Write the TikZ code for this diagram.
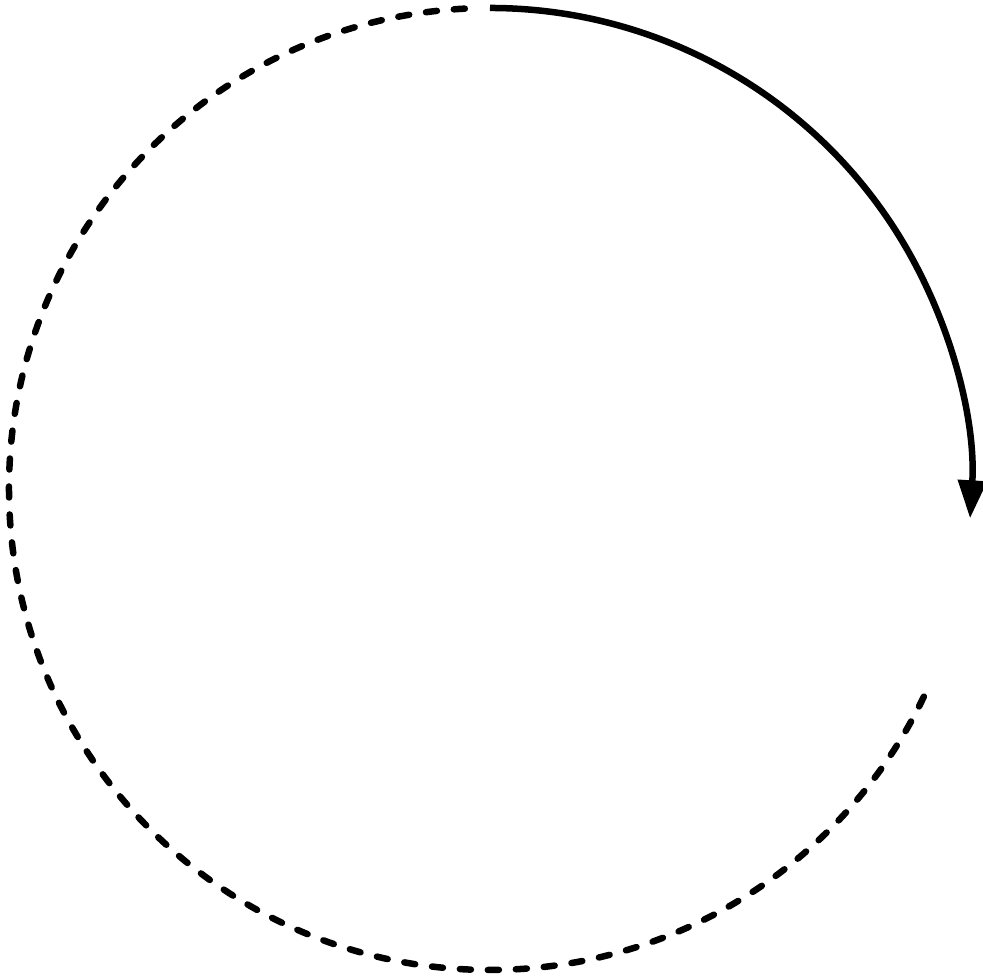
\documentclass[tikz,border=0pt]{standalone}
\usepackage{tikz}
\usetikzlibrary{arrows.meta}
\tikzset{
  track/.style={line width=0.065cm,dash pattern=on 0.11cm off 0.17cm,line cap=round},
  motion/.style={line width=0.065cm,-{Triangle[length=3.8mm,width=2.8mm]}}
}
\begin{document}
\begin{tikzpicture}%
  \coordinate (A) at (0,0); \coordinate (B) at (9.83,9.77);
  \path[use as bounding box] (A) rectangle (B);
  \coordinate (O) at (4.90,4.88);
  \draw[track] ([shift={(93:4.81)}]O) arc[start angle=93,end angle=335,radius=4.81];
  \draw[motion] ([shift={(90:4.81)}]O) arc[start angle=90,end angle=-3.5,radius=4.81];
\end{tikzpicture}
\end{document}
